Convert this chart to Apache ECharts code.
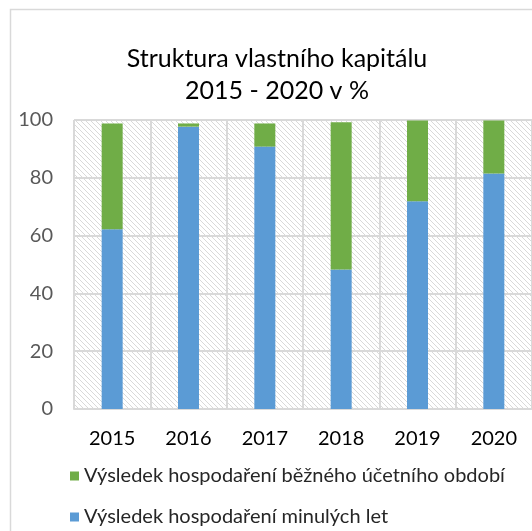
<!DOCTYPE html>
<html>
<head>
<meta charset="utf-8">
<script src="https://cdn.jsdelivr.net/npm/echarts@6/dist/echarts.min.js"></script>
<style>
  html, body { margin: 0; padding: 0; background: #fff; }
  #main { width: 532px; height: 531px; }
</style>
</head>
<body>
<div id="main"></div>
<script>
const years = ['2015', '2016', '2017', '2018', '2019', '2020'];
const minulychLet = [62.2, 97.7, 90.8, 48.3, 71.9, 81.5];
const beznehoObdobi = [36.6, 1.1, 8.0, 50.9, 27.9, 18.3];
const yTicks = [0, 20, 40, 60, 80, 100];

const nameMinule = 'Výsledek hospodaření minulých let';
const nameBezne = 'Výsledek hospodaření běžného účetního období';

const chart = echarts.init(document.querySelector('#main'));

// hatch pattern for the plot background
const tile = document.createElement('canvas');
tile.width = 5;
tile.height = 5;
const ctx = tile.getContext('2d');
ctx.strokeStyle = '#d9d9d9';
ctx.lineWidth = 1;
ctx.beginPath();
ctx.moveTo(-1, -1); ctx.lineTo(6, 6);
ctx.moveTo(-1, 4); ctx.lineTo(1, 6);
ctx.moveTo(4, -1); ctx.lineTo(6, 1);
ctx.stroke();

const font = 'Lato';

const legendBase = {
    orient: 'horizontal',
    left: 70,
    padding: 0,
    itemWidth: 9,
    itemHeight: 9,
    icon: 'rect',
    textStyle: { fontFamily: font, fontSize: 20, color: '#262626' }
};

let option = {
    animation: false,
    title: {
        text: 'Struktura vlastního kapitálu\n2015 - 2020 v %',
        left: 272,
        textAlign: 'center',
        top: 38,
        textStyle: {
            fontFamily: font,
            fontWeight: 'normal',
            fontSize: 25,
            lineHeight: 32,
            color: '#000'
        }
    },
    graphic: [
        {
            type: 'rect',
            shape: { x: 10.5, y: 9.5, width: 600, height: 600 },
            style: { fill: 'none', stroke: '#d9d9d9', lineWidth: 1.5 },
            silent: true
        }
    ],
    legend: [
        Object.assign({}, legendBase, { top: 466, data: [nameBezne] }),
        Object.assign({}, legendBase, { top: 507, data: [nameMinule] })
    ],
    grid: {
        left: 74,
        top: 120,
        width: 466,
        bottom: 122,
        show: true,
        borderWidth: 0,
        backgroundColor: { image: tile, repeat: 'repeat' }
    },
    xAxis: {
        type: 'category',
        data: years,
        axisTick: { show: false },
        axisLine: { lineStyle: { color: '#d9d9d9', width: 2 } },
        splitLine: { show: true, lineStyle: { color: '#d9d9d9', width: 2 } },
        axisLabel: { fontFamily: font, fontSize: 20, color: '#000', margin: 20 }
    },
    yAxis: {
        type: 'value',
        min: yTicks[0],
        max: yTicks[yTicks.length - 1],
        interval: 20,
        axisLine: { show: false },
        axisTick: { show: false },
        splitLine: { lineStyle: { color: '#d9d9d9', width: 2 } },
        axisLabel: { fontFamily: font, fontSize: 20, color: '#595959', margin: 21 }
    },
    series: [
        {
            name: nameMinule,
            type: 'bar',
            stack: 'vk',
            barWidth: 21,
            itemStyle: { color: '#5b9bd5' },
            data: minulychLet
        },
        {
            name: nameBezne,
            type: 'bar',
            stack: 'vk',
            barWidth: 21,
            itemStyle: { color: '#70ad47' },
            data: beznehoObdobi
        }
    ]
};

chart.setOption(option);
</script>
</body>
</html>
